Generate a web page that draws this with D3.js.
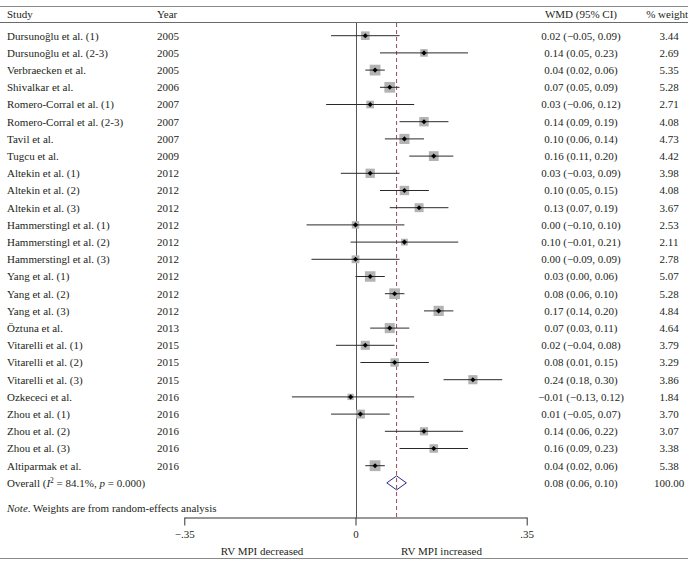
<!DOCTYPE html>
<html><head><meta charset="utf-8">
<script src="https://cdn.jsdelivr.net/npm/d3@7"></script>
<style>
html,body{margin:0;padding:0;background:#fff;}
svg text{font-family:"Liberation Serif","DejaVu Serif",serif;font-size:11px;fill:#231f20;}
</style></head>
<body><svg id="c" width="696" height="566"></svg>
<script>
const studies = ["Dursunoğlu et al. (1)","Dursunoğlu et al. (2-3)","Verbraecken et al.","Shivalkar et al.","Romero-Corral et al. (1)","Romero-Corral et al. (2-3)","Tavil et al.","Tugcu et al.","Altekin et al. (1)","Altekin et al. (2)","Altekin et al. (3)","Hammerstingl et al. (1)","Hammerstingl et al. (2)","Hammerstingl et al. (3)","Yang et al. (1)","Yang et al. (2)","Yang et al. (3)","Öztuna et al.","Vitarelli et al. (1)","Vitarelli et al. (2)","Vitarelli et al. (3)","Ozkececi et al.","Zhou et al. (1)","Zhou et al. (2)","Zhou et al. (3)","Altiparmak et al."];
const years = [2005,2005,2005,2006,2007,2007,2007,2009,2012,2012,2012,2012,2012,2012,2012,2012,2012,2013,2015,2015,2015,2016,2016,2016,2016,2016];
const wmd = [0.02,0.14,0.04,0.07,0.03,0.14,0.10,0.16,0.03,0.10,0.13,0.00,0.10,0.00,0.03,0.08,0.17,0.07,0.02,0.08,0.24,-0.01,0.01,0.14,0.16,0.04];
const lower = [-0.05,0.05,0.02,0.05,-0.06,0.09,0.06,0.11,-0.03,0.05,0.07,-0.10,-0.01,-0.09,0.00,0.06,0.14,0.03,-0.04,0.01,0.18,-0.13,-0.05,0.06,0.09,0.02];
const upper = [0.09,0.23,0.06,0.09,0.12,0.19,0.14,0.20,0.09,0.15,0.19,0.10,0.21,0.09,0.06,0.10,0.20,0.11,0.08,0.15,0.30,0.12,0.07,0.22,0.23,0.06];
const weights = [3.44,2.69,5.35,5.28,2.71,4.08,4.73,4.42,3.98,4.08,3.67,2.53,2.11,2.78,5.07,5.28,4.84,4.64,3.79,3.29,3.86,1.84,3.70,3.07,3.38,5.38];
const overall = {est:0.084, lo:0.064, hi:0.104, weight:100};
const xTicks = [-0.35, 0, 0.35];
const xTickLabels = ["\u2212.35","0",".35"];

const svg = d3.select("#c");
const x = d3.scaleLinear().domain([-0.35,0.35]).range([184.3,526.7]);
const y = d3.scaleLinear().domain([0,26]).range([35.7,482.9]);
const side = d3.scaleSqrt().domain([0,5.38]).range([0,10.8]);
const f2 = d3.format(".2f");
const fmt = v => f2(v).replace("-","\u2212");

const axisY = 517.5;
// frame lines
svg.append("line").attr("x1",0).attr("x2",688).attr("y1",6.5).attr("y2",6.5).attr("stroke","#8a8a8a").attr("stroke-width",1);
svg.append("line").attr("x1",0).attr("x2",688).attr("y1",22.5).attr("y2",22.5).attr("stroke","#6a6a6a").attr("stroke-width",1);
svg.append("line").attr("x1",0).attr("x2",688).attr("y1",558.5).attr("y2",558.5).attr("stroke","#8a8a8a").attr("stroke-width",1.2);

// headers
svg.append("text").attr("x",7).attr("y",18).text("Study");
svg.append("text").attr("x",157).attr("y",18).text("Year");
svg.append("text").attr("x",581).attr("y",18).attr("text-anchor","middle").text("WMD (95% CI)");
svg.append("text").attr("x",688).attr("y",18).attr("text-anchor","end").text("% weight");

// zero line and overall dashed line
svg.append("line").attr("x1",Math.round(x(0))+0.5).attr("x2",Math.round(x(0))+0.5).attr("y1",23).attr("y2",axisY).attr("stroke","#555").attr("stroke-width",1);
svg.append("line").attr("x1",x(overall.est)).attr("x2",x(overall.est)).attr("y1",23).attr("y2",axisY)
  .attr("stroke","#9a4a5a").attr("stroke-width",1).attr("stroke-dasharray","4,3");

const rows = studies.map((s,i)=>({s, yr:years[i], e:wmd[i], lo:lower[i], hi:upper[i], w:weights[i], i}));
const g = svg.append("g");
// squares
g.selectAll("rect.sq").data(rows).join("rect")
  .attr("x",d=>x(d.e)-side(d.w)/2).attr("y",d=>y(d.i)-side(d.w)/2)
  .attr("width",d=>side(d.w)).attr("height",d=>side(d.w)).attr("fill","#b3b3b3");
// CI lines
g.selectAll("line.ci").data(rows).join("line")
  .attr("x1",d=>x(d.lo)).attr("x2",d=>x(d.hi)).attr("y1",d=>y(d.i)).attr("y2",d=>y(d.i))
  .attr("stroke","#2a2a2a").attr("stroke-width",1);
// point markers
g.selectAll("path.pt").data(rows).join("path")
  .attr("d",d3.symbol(d3.symbolSquare,13))
  .attr("transform",d=>`translate(${x(d.e)},${y(d.i)}) rotate(45)`).attr("fill","#000");

// text columns
g.selectAll("text.st").data(rows).join("text").attr("x",7).attr("y",d=>y(d.i)+3.8).text(d=>d.s);
g.selectAll("text.yr").data(rows).join("text").attr("x",157).attr("y",d=>y(d.i)+3.8).text(d=>d.yr);
g.selectAll("text.ci").data(rows).join("text").attr("x",581).attr("y",d=>y(d.i)+3.8).attr("text-anchor","middle")
  .text(d=>`${fmt(d.e)} (${fmt(d.lo)}, ${fmt(d.hi)})`);
g.selectAll("text.wt").data(rows).join("text").attr("x",669).attr("y",d=>y(d.i)+3.8).attr("text-anchor","middle")
  .text(d=>f2(d.w));

// overall
const oy = y(26);
svg.append("path").attr("d",`M${x(overall.lo)},${oy} L${x(overall.est)},${oy-7} L${x(overall.hi)},${oy} L${x(overall.est)},${oy+7} Z`)
  .attr("fill","none").attr("stroke","#2a2a8a").attr("stroke-width",1);
const ot = svg.append("text").attr("x",7).attr("y",oy+3.8);
ot.append("tspan").text("Overall (");
ot.append("tspan").attr("font-style","italic").text("I");
ot.append("tspan").attr("dy",-4).attr("font-size","7.5px").text("2");
ot.append("tspan").attr("dy",4).text(" = 84.1%, ");
ot.append("tspan").attr("font-style","italic").text("p");
ot.append("tspan").text(" = 0.000)");
svg.append("text").attr("x",581).attr("y",oy+3.8).attr("text-anchor","middle").text(`${fmt(overall.est)} (${fmt(overall.lo)}, ${fmt(overall.hi)})`);
svg.append("text").attr("x",669).attr("y",oy+3.8).attr("text-anchor","middle").text(f2(overall.weight));

// note
const nt = svg.append("text").attr("x",7).attr("y",512);
nt.append("tspan").attr("font-style","italic").text("Note");
nt.append("tspan").text(". Weights are from random-effects analysis");

// axis
const axis = d3.axisBottom(x).tickValues(xTicks).tickFormat((d,i)=>xTickLabels[i]).tickSize(8).tickSizeOuter(0);
const ag = svg.append("g").attr("transform",`translate(0,${axisY})`).call(axis);
ag.select(".domain").attr("stroke","#333");
ag.selectAll(".tick line").attr("stroke","#333");
ag.selectAll(".tick text").attr("font-family","Liberation Serif, serif").attr("font-size","11px").attr("fill","#231f20").attr("dy","0.85em");
svg.append("text").attr("x",262).attr("y",555).attr("text-anchor","middle").text("RV MPI decreased");
svg.append("text").attr("x",441.5).attr("y",555).attr("text-anchor","middle").text("RV MPI increased");
</script></body></html>
